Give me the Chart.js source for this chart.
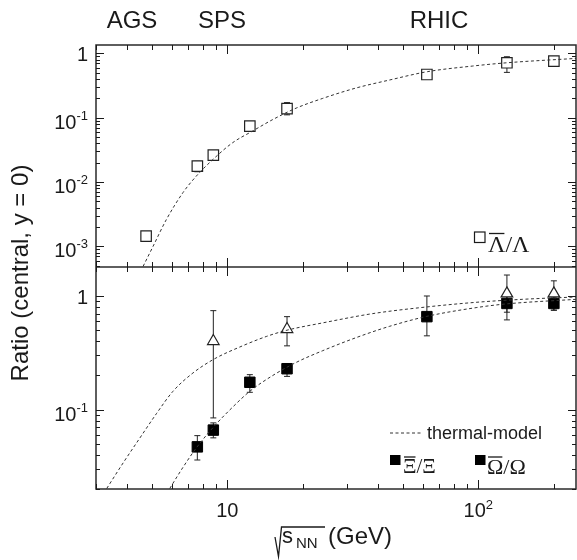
<!DOCTYPE html>
<html>
<head>
<meta charset="utf-8">
<script src="https://cdn.jsdelivr.net/npm/chart.js@4.4.1/dist/chart.umd.min.js"></script>
<style>
html,body{margin:0;padding:0;background:#fff}
#wrap{width:577px;height:560px;position:relative}
</style>
</head>
<body>
<div id="wrap"><canvas id="chart" width="577" height="560"></canvas></div>
<script>
// ================= DATA =================
// sqrt(s_NN) in GeV
const lamX  = [4.75, 7.6, 8.8, 12.3, 17.3, 62.4, 130, 200];
const lamY  = [0.00145, 0.0177, 0.0262, 0.074, 0.139, 0.47, 0.715, 0.76];
const lamLo = [0.00135, 0.0145, 0.0240, 0.070, 0.111, 0.44, 0.507, 0.72];
const lamHi = [0.00155, 0.0210, 0.0290, 0.078, 0.172, 0.50, 0.887, 0.80];

const xiX  = [7.6, 8.8, 12.3, 17.3, 62.4, 130, 200];
const xiY  = [0.047, 0.066, 0.174, 0.229, 0.658, 0.86, 0.86];
const xiLo = [0.036, 0.0564, 0.142, 0.196, 0.446, 0.72, 0.75];
const xiHi = [0.059, 0.0764, 0.203, 0.253, 1.0, 1.0, 0.98];

const omX  = [8.8, 17.3, 130, 200];
const omY  = [0.40, 0.51, 1.05, 1.05];
const omLo = [0.0845, 0.364, 0.616, 0.75];
const omHi = [0.743, 0.658, 1.53, 1.36];

// thermal-model curves
const lamCurveX = [4.62, 5.06, 5.72, 6.66, 7.53, 8.77, 10.5, 12.6, 15.2, 18.8, 24, 32.6, 44.2, 62.7, 94.6, 130, 245];
const lamCurveY = [0.00049, 0.001, 0.00262, 0.00686, 0.0124, 0.0225, 0.0409, 0.062, 0.094, 0.141, 0.2, 0.29, 0.385, 0.52, 0.635, 0.715, 0.836];

const omCurveX = [3.31, 3.85, 4.48, 5.22, 6.08, 7.3, 8.9, 11.2, 14.3, 17.3, 24, 38, 62, 98, 150, 245];
const omCurveY = [0.0202, 0.034, 0.056, 0.092, 0.145, 0.21, 0.28, 0.355, 0.44, 0.50, 0.58, 0.70, 0.80, 0.88, 0.935, 0.98];

const xiCurveX = [5.9, 6.66, 7.53, 8.9, 10.5, 12.3, 15.2, 18.8, 24, 32.6, 44.2, 62, 98, 128, 245];
const xiCurveY = [0.0202, 0.031, 0.046, 0.072, 0.105, 0.145, 0.2, 0.26, 0.33, 0.43, 0.54, 0.66, 0.79, 0.85, 0.935];

// axis ranges
const xMin = 3, xMax = 245;
const yTopMin = 4.8e-4, yTopMax = 1.35;
const yBotMin = 0.02, yBotMax = 1.8;

const topExps = [0, -1, -2, -3];
const botExps = [0, -1];
const xExps = [1, 2];
const energyLabels = ["AGS", "SPS", "RHIC"];
const energyLabelX = [132, 222, 439];

const SANS = '"Liberation Sans", Arial, sans-serif';
const SERIF = '"Liberation Serif", "Times New Roman", serif';
const INK = "#1a1a1a";

const pts = (xs, ys) => xs.map((x, i) => ({x, y: ys[i]}));

// ================= HELPERS =================
function logTicks(min, max){
    const out = [];
    for(let e = Math.floor(Math.log10(min)); e <= Math.ceil(Math.log10(max)); e++){
        for(let m = 1; m <= 9; m++){
            const v = m * Math.pow(10, e);
            if(v >= min * 0.999 && v <= max * 1.001) out.push({v, major: m === 1});
        }
    }
    return out;
}

function yLabel(ctx, exp, xRight, y){
    ctx.fillStyle = INK;
    ctx.textAlign = "right";
    ctx.textBaseline = "alphabetic";
    if(exp === 0){
        ctx.font = `20px ${SANS}`;
        ctx.fillText("1", xRight, y + 8);
        return;
    }
    ctx.font = `13px ${SANS}`;
    const sup = String(exp);
    const w = ctx.measureText(sup).width;
    ctx.fillText(sup, xRight, y + 2);
    ctx.font = `20px ${SANS}`;
    ctx.fillText("10", xRight - w, y + 11);
}

function xLabel(ctx, exp, xc, base){
    ctx.fillStyle = INK;
    ctx.textBaseline = "alphabetic";
    ctx.textAlign = "left";
    ctx.font = `20px ${SANS}`;
    const w1 = ctx.measureText("10").width;
    let w2 = 0;
    if(exp > 1){ ctx.font = `13px ${SANS}`; w2 = ctx.measureText(String(exp)).width; }
    const x0 = xc - (w1 + w2) / 2;
    ctx.font = `20px ${SANS}`;
    ctx.fillText("10", x0, base);
    if(exp > 1){ ctx.font = `13px ${SANS}`; ctx.fillText(String(exp), x0 + w1, base - 8); }
}

function overText(ctx, first, rest, x, base, size, barY){
    ctx.font = `${size}px ${SERIF}`;
    ctx.textAlign = "left";
    ctx.textBaseline = "alphabetic";
    ctx.fillStyle = INK;
    const w = ctx.measureText(first).width;
    ctx.fillText(first, x, base);
    ctx.fillText(rest, x + w, base);
    ctx.strokeStyle = INK;
    ctx.lineWidth = 1.3;
    ctx.beginPath();
    ctx.moveTo(x + 1, barY);
    ctx.lineTo(x + w - 1, barY);
    ctx.stroke();
}

function errorBars(ctx, sx, sy, xs, lo, hi){
    ctx.strokeStyle = "#222";
    ctx.lineWidth = 1;
    xs.forEach((x, i) => {
        const px = sx.getPixelForValue(x);
        const p1 = sy.getPixelForValue(lo[i]);
        const p2 = sy.getPixelForValue(hi[i]);
        ctx.beginPath();
        ctx.moveTo(px, p1); ctx.lineTo(px, p2);
        ctx.moveTo(px - 3, p1); ctx.lineTo(px + 3, p1);
        ctx.moveTo(px - 3, p2); ctx.lineTo(px + 3, p2);
        ctx.stroke();
    });
}

// ================= PLUGIN =================
const deco = {
    id: "deco",
    beforeDraw(chart){
        const ctx = chart.ctx;
        ctx.save();
        ctx.fillStyle = "#fff";
        ctx.fillRect(0, 0, chart.width, chart.height);
        ctx.restore();
    },
    beforeDatasetsDraw(chart){
        const {ctx, scales} = chart;
        ctx.save();
        errorBars(ctx, scales.x, scales.yTop, lamX, lamLo, lamHi);
        errorBars(ctx, scales.x, scales.yBot, xiX, xiLo, xiHi);
        errorBars(ctx, scales.x, scales.yBot, omX, omLo, omHi);
        ctx.restore();
    },
    afterDraw(chart){
        const {ctx, chartArea: a, scales} = chart;
        const sx = scales.x, yt = scales.yTop, yb = scales.yBot;
        ctx.save();

        // frame + divider
        ctx.strokeStyle = "#2a2a2a";
        ctx.lineWidth = 1.5;
        ctx.strokeRect(a.left, a.top, a.right - a.left, a.bottom - a.top);
        ctx.beginPath();
        ctx.moveTo(a.left, yb.top); ctx.lineTo(a.right, yb.top);
        ctx.stroke();

        // ticks
        ctx.lineWidth = 1;
        ctx.strokeStyle = INK;
        ctx.beginPath();
        logTicks(xMin, xMax).forEach(t => {
            const px = Math.round(sx.getPixelForValue(t.v)) + 0.5;
            const len = t.major ? 9 : 5;
            [[yt.top, 1], [yt.bottom, -1], [yb.top, 1], [yb.bottom, -1]].forEach(([y, d]) => {
                ctx.moveTo(px, y); ctx.lineTo(px, y + d * len);
            });
        });
        [[yt, yTopMin, yTopMax], [yb, yBotMin, yBotMax]].forEach(([s, mn, mx]) => {
            logTicks(mn, mx).forEach(t => {
                const py = Math.round(s.getPixelForValue(t.v)) + 0.5;
                const len = t.major ? 8 : 4;
                ctx.moveTo(a.left, py); ctx.lineTo(a.left + len, py);
                ctx.moveTo(a.right, py); ctx.lineTo(a.right - len, py);
            });
        });
        ctx.stroke();

        // tick labels
        topExps.forEach(e => yLabel(ctx, e, 88, yt.getPixelForValue(Math.pow(10, e))));
        botExps.forEach(e => yLabel(ctx, e, 88, yb.getPixelForValue(Math.pow(10, e))));
        xExps.forEach(e => xLabel(ctx, e, sx.getPixelForValue(Math.pow(10, e)), 517));

        // energy labels
        ctx.fillStyle = INK;
        ctx.font = `24px ${SANS}`;
        ctx.textAlign = "center";
        ctx.textBaseline = "alphabetic";
        energyLabels.forEach((t, i) => ctx.fillText(t, energyLabelX[i], 28));

        // y title
        ctx.save();
        ctx.translate(28, 273);
        ctx.rotate(-Math.PI / 2);
        ctx.font = `24px ${SANS}`;
        ctx.textAlign = "center";
        ctx.fillText("Ratio (central, y = 0)", 0, 0);
        ctx.restore();

        // x title: sqrt(s_NN) (GeV)
        ctx.strokeStyle = INK;
        ctx.lineWidth = 1.3;
        ctx.beginPath();
        ctx.moveTo(275, 537); ctx.lineTo(278.5, 556.5); ctx.lineTo(281.5, 527); ctx.lineTo(325, 527);
        ctx.stroke();
        ctx.textAlign = "left";
        ctx.font = `22px ${SANS}`;
        ctx.fillText("s", 282, 543);
        ctx.font = `15px ${SANS}`;
        ctx.fillText("NN", 296, 548);
        ctx.font = `24px ${SANS}`;
        ctx.fillText("(GeV)", 328, 544);

        // legend: top panel
        ctx.strokeStyle = INK;
        ctx.lineWidth = 1.2;
        ctx.strokeRect(474.5, 232, 10.5, 10.5);
        overText(ctx, "Λ", "/Λ", 488, 252, 24, 233.5);

        // legend: bottom panel
        ctx.setLineDash([3, 2.5]);
        ctx.strokeStyle = "#333";
        ctx.lineWidth = 1;
        ctx.beginPath();
        ctx.moveTo(390, 433); ctx.lineTo(421, 433);
        ctx.stroke();
        ctx.setLineDash([]);
        ctx.fillStyle = INK;
        ctx.font = `18px ${SANS}`;
        ctx.textAlign = "left";
        ctx.fillText("thermal-model", 427, 438.5);

        ctx.fillStyle = "#000";
        ctx.fillRect(390, 455, 10.5, 10);
        overText(ctx, "Ξ", "/Ξ", 403, 473, 21, 457);
        ctx.fillStyle = "#000";
        ctx.fillRect(475, 455, 10.5, 10);
        overText(ctx, "Ω", "/Ω", 487, 474, 22, 457);

        ctx.restore();
    }
};

// ================= CHART =================
const curveStyle = {
    showLine: true, pointRadius: 0, borderColor: "#333", borderWidth: 1,
    borderDash: [3, 2.5], cubicInterpolationMode: "monotone", fill: false
};

new Chart(document.getElementById("chart"), {
    type: "scatter",
    data: {
        datasets: [
            {...curveStyle, data: pts(lamCurveX, lamCurveY), yAxisID: "yTop"},
            {...curveStyle, data: pts(omCurveX, omCurveY), yAxisID: "yBot"},
            {...curveStyle, data: pts(xiCurveX, xiCurveY), yAxisID: "yBot"},
            {data: pts(lamX, lamY), yAxisID: "yTop", pointStyle: "rect", pointRadius: 7.4,
                backgroundColor: "#fff", borderColor: "#222", borderWidth: 1.2},
            {data: pts(omX, omY), yAxisID: "yBot", pointStyle: "triangle", pointRadius: 6.7,
                backgroundColor: "#fff", borderColor: "#222", borderWidth: 1.2},
            {data: pts(xiX, xiY), yAxisID: "yBot", pointStyle: "rect", pointRadius: 7.4,
                backgroundColor: "#000", borderColor: "#000", borderWidth: 1}
        ]
    },
    options: {
        responsive: false,
        animation: false,
        layout: {autoPadding: false, padding: {left: 96, right: 1, top: 45, bottom: 71}},
        plugins: {legend: {display: false}, tooltip: {enabled: false}},
        scales: {
            x: {
                type: "logarithmic", min: xMin, max: xMax,
                ticks: {display: false}, grid: {display: false}, border: {display: false},
                afterFit: s => { s.height = 0; }
            },
            yBot: {
                type: "logarithmic", min: yBotMin, max: yBotMax, position: "left",
                stack: "panels", stackWeight: 1,
                ticks: {display: false}, grid: {display: false}, border: {display: false},
                afterFit: s => { s.width = 0; }
            },
            yTop: {
                type: "logarithmic", min: yTopMin, max: yTopMax, position: "left",
                stack: "panels", stackWeight: 1,
                ticks: {display: false}, grid: {display: false}, border: {display: false},
                afterFit: s => { s.width = 0; }
            }
        }
    },
    plugins: [deco]
});
</script>
</body>
</html>
